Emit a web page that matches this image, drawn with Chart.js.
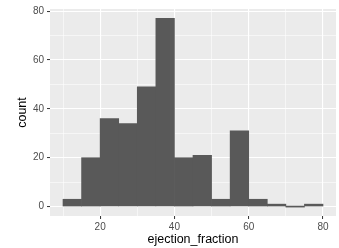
<!DOCTYPE html>
<html>
<head>
<meta charset="utf-8">
<script src="https://cdn.jsdelivr.net/npm/chart.js@4"></script>
<style>
  html, body { margin: 0; padding: 0; background: #fff; }
  #wrap { width: 339px; height: 248px; }
</style>
</head>
<body>
<div id="wrap"><canvas id="myChart"></canvas></div>
<script>
// histogram bins (width 5) and counts
const binStarts = [10, 15, 20, 25, 30, 35, 40, 45, 50, 55, 60, 65, 70, 75];
const counts = [3, 20, 36, 34, 49, 77, 20, 21, 3, 31, 3, 1, 0, 1];
const binWidth = 5;

const xTicks = [10, 20, 30, 40, 50, 60, 70, 80];
const yTicks = [0, 10, 20, 30, 40, 50, 60, 70, 80];
const xLabels = [20, 40, 60, 80];
const yLabels = [0, 20, 40, 60, 80];

const points = binStarts.map((s, i) => ({ x: s + binWidth / 2, y: counts[i] }));

const panelBg = {
  id: 'panelBg',
  beforeDraw(chart) {
    const a = chart.chartArea;
    chart.ctx.save();
    chart.ctx.fillStyle = '#EBEBEB';
    chart.ctx.fillRect(a.left, a.top, a.right - a.left, a.bottom - a.top);
    chart.ctx.restore();
  }
};

function gridWidth(major) {
  return ctx => (ctx.tick && major.includes(ctx.tick.value)) ? 1.1 : 0.55;
}
function tickCol(major) {
  return ctx => (ctx.tick && major.includes(ctx.tick.value)) ? '#333333' : 'rgba(0,0,0,0)';
}

const ctx = document.getElementById('myChart');

new Chart(ctx, {
  type: 'bar',
  data: {
    datasets: [{
      data: points,
      backgroundColor: '#595959',
      borderWidth: 0,
      categoryPercentage: 1,
      barPercentage: 1,
      minBarLength: 1
    }]
  },
  options: {
    responsive: true,
    maintainAspectRatio: false,
    animation: false,
    layout: { padding: { top: 9, right: 3, left: 0, bottom: 0 } },
    plugins: { legend: { display: false }, tooltip: { enabled: false } },
    scales: {
      x: {
        type: 'linear',
        min: 6.5,
        max: 83.5,
        offset: false,
        afterBuildTicks: s => { s.ticks = xTicks.map(v => ({ value: v })); },
        afterFit: s => { s.height = 32; },
        border: { display: false },
        grid: {
          offset: false,
          color: '#FFFFFF',
          lineWidth: gridWidth(xLabels),
          tickColor: tickCol(xLabels),
          tickLength: 3,
          tickWidth: 1
        },
        ticks: {
          autoSkip: false,
          maxRotation: 0,
          padding: 2,
          color: '#4D4D4D',
          font: { family: 'Liberation Sans, Arial, sans-serif', size: 10 },
          callback: v => xLabels.includes(v) ? String(v) : ''
        },
        title: {
          display: true,
          text: 'ejection_fraction',
          color: '#000000',
          font: { family: 'Liberation Sans, Arial, sans-serif', size: 12.5, lineHeight: 1.2 },
          padding: { top: 0, bottom: 1 }
        }
      },
      y: {
        type: 'linear',
        min: -3.85,
        max: 80.85,
        afterBuildTicks: s => { s.ticks = yTicks.map(v => ({ value: v })); },
        afterFit: s => { s.width = 50; },
        border: { display: false },
        grid: {
          color: '#FFFFFF',
          lineWidth: gridWidth(yLabels),
          tickColor: tickCol(yLabels),
          tickLength: 3,
          tickWidth: 1
        },
        ticks: {
          padding: 3,
          color: '#4D4D4D',
          font: { family: 'Liberation Sans, Arial, sans-serif', size: 10 },
          callback: v => yLabels.includes(v) ? String(v) : ''
        },
        title: {
          display: true,
          text: 'count',
          color: '#000000',
          font: { family: 'Liberation Sans, Arial, sans-serif', size: 12.5, lineHeight: 1.2 },
          padding: { top: 15.5, bottom: 0 }
        }
      }
    }
  },
  plugins: [panelBg]
});
</script>
</body>
</html>
